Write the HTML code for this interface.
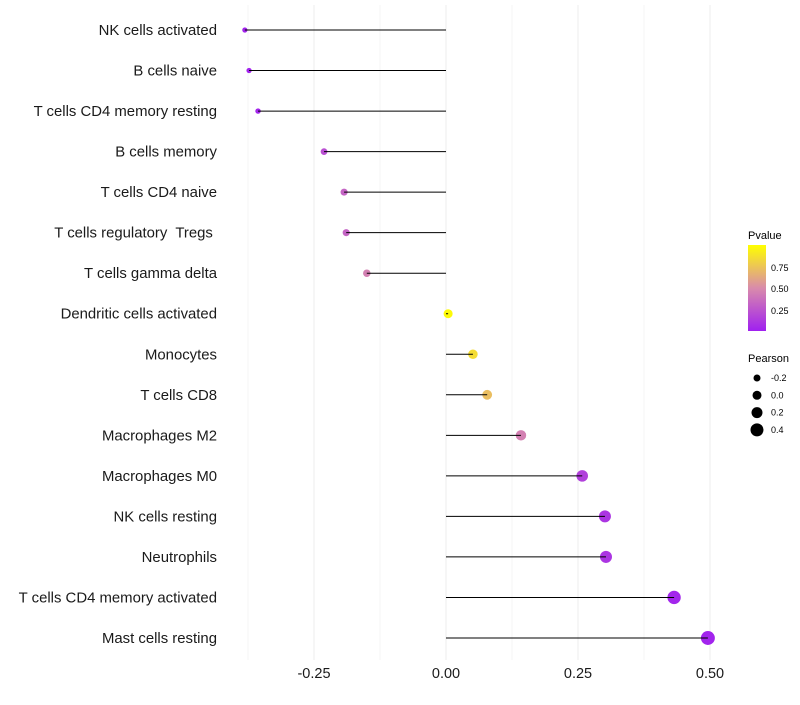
<!DOCTYPE html>
<html><head><meta charset="utf-8"><style>
body{margin:0;background:#fff}
svg{font-family:"Liberation Sans",sans-serif}
text{white-space:pre}
</style></head><body>
<svg width="800" height="700" xmlns="http://www.w3.org/2000/svg">
<defs><linearGradient id="pg" x1="0" y1="1" x2="0" y2="0">
<stop offset="0" stop-color="#A020F0"/><stop offset="0.5" stop-color="#D98BAB"/><stop offset="1" stop-color="#FFFF00"/></linearGradient></defs>
<g id="grid"></g>
<g id="marks"></g>
<g id="labels"></g>
<g id="xticks"></g>
<g>
<text x="748" y="239" font-size="11">Pvalue</text>
<rect x="748" y="245" width="18" height="86" fill="url(#pg)"/>
<text x="771" y="271" font-size="9">0.75</text>
<text x="771" y="292" font-size="9">0.50</text>
<text x="771" y="314" font-size="9">0.25</text>
</g>
<g id="sizeleg">
<text x="748" y="362" font-size="11">Pearson</text>
</g>
</svg>
<script>
const categories=["NK cells activated","B cells naive","T cells CD4 memory resting","B cells memory","T cells CD4 naive","T cells regulatory  Tregs ","T cells gamma delta","Dendritic cells activated","Monocytes","T cells CD8","Macrophages M2","Macrophages M0","NK cells resting","Neutrophils","T cells CD4 memory activated","Mast cells resting"];
const pearson=[-0.381,-0.373,-0.356,-0.231,-0.193,-0.189,-0.150,0.004,0.051,0.078,0.142,0.258,0.301,0.303,0.432,0.496];
const pvalue=[0.02,0.02,0.03,0.22,0.32,0.32,0.45,0.98,0.85,0.72,0.45,0.15,0.1,0.1,0.03,0.02];
const xTicks=[-0.25,0,0.25,0.5];
const xTickLabels=["-0.25","0.00","0.25","0.50"];
const sizeBreaks=[-0.2,0,0.2,0.4];
const sizeLabels=["-0.2","0.0","0.2","0.4"];
const NS="http://www.w3.org/2000/svg";
const xs=v=>446+v*528;
const ys=i=>30+i*(638-30)/15;
const rs=v=>Math.max(1.5,4.5+5*v);
function col(p){const a=[160,32,240],b=[217,139,171],c=[255,255,0];let s,e,t;if(p<0.5){s=a;e=b;t=p/0.5}else{s=b;e=c;t=(p-0.5)/0.5}return `rgb(${s.map((v,k)=>Math.round(v+(e[k]-v)*t)).join(',')})`;}
function mk(tag,at,par){const el=document.createElementNS(NS,tag);for(const k in at)el.setAttribute(k,at[k]);par.appendChild(el);return el;}
const grid=document.getElementById('grid'),marks=document.getElementById('marks'),labels=document.getElementById('labels'),xt=document.getElementById('xticks'),sl=document.getElementById('sizeleg');
[-0.375,-0.25,-0.125,0,0.125,0.25,0.375,0.5].forEach(v=>{const l=mk('line',{x1:xs(v),x2:xs(v),y1:5,y2:660,stroke:'#eeeeee','stroke-width':Number.isInteger(v*4)?1:0.6},grid);

});
categories.forEach((c,i)=>{const y=ys(i);
const ci=mk('circle',{cx:xs(pearson[i]),cy:y,r:rs(pearson[i]),fill:col(pvalue[i])},marks);


const t=mk('text',{x:217,y:y+5,'text-anchor':'end','font-size':14.9,fill:'#1a1a1a'},labels);t.textContent=c;

});
categories.forEach((c,i)=>{const y=ys(i);
const ln=mk('line',{x1:xs(0),x2:xs(pearson[i]),y1:y,y2:y,stroke:'#000','stroke-width':1},marks);

});
xTicks.forEach((v,i)=>{const t=mk('text',{x:xs(v),y:678,'text-anchor':'middle','font-size':14.5,fill:'#1a1a1a'},xt);t.textContent=xTickLabels[i];

});
sizeBreaks.forEach((v,i)=>{const y=378+i*17.3;
const c=mk('circle',{cx:757,cy:y,r:rs(v),fill:'#000'},sl);


const t=mk('text',{x:771,y:y+3,'font-size':9},sl);t.textContent=sizeLabels[i];

});
</script>
</body></html>
